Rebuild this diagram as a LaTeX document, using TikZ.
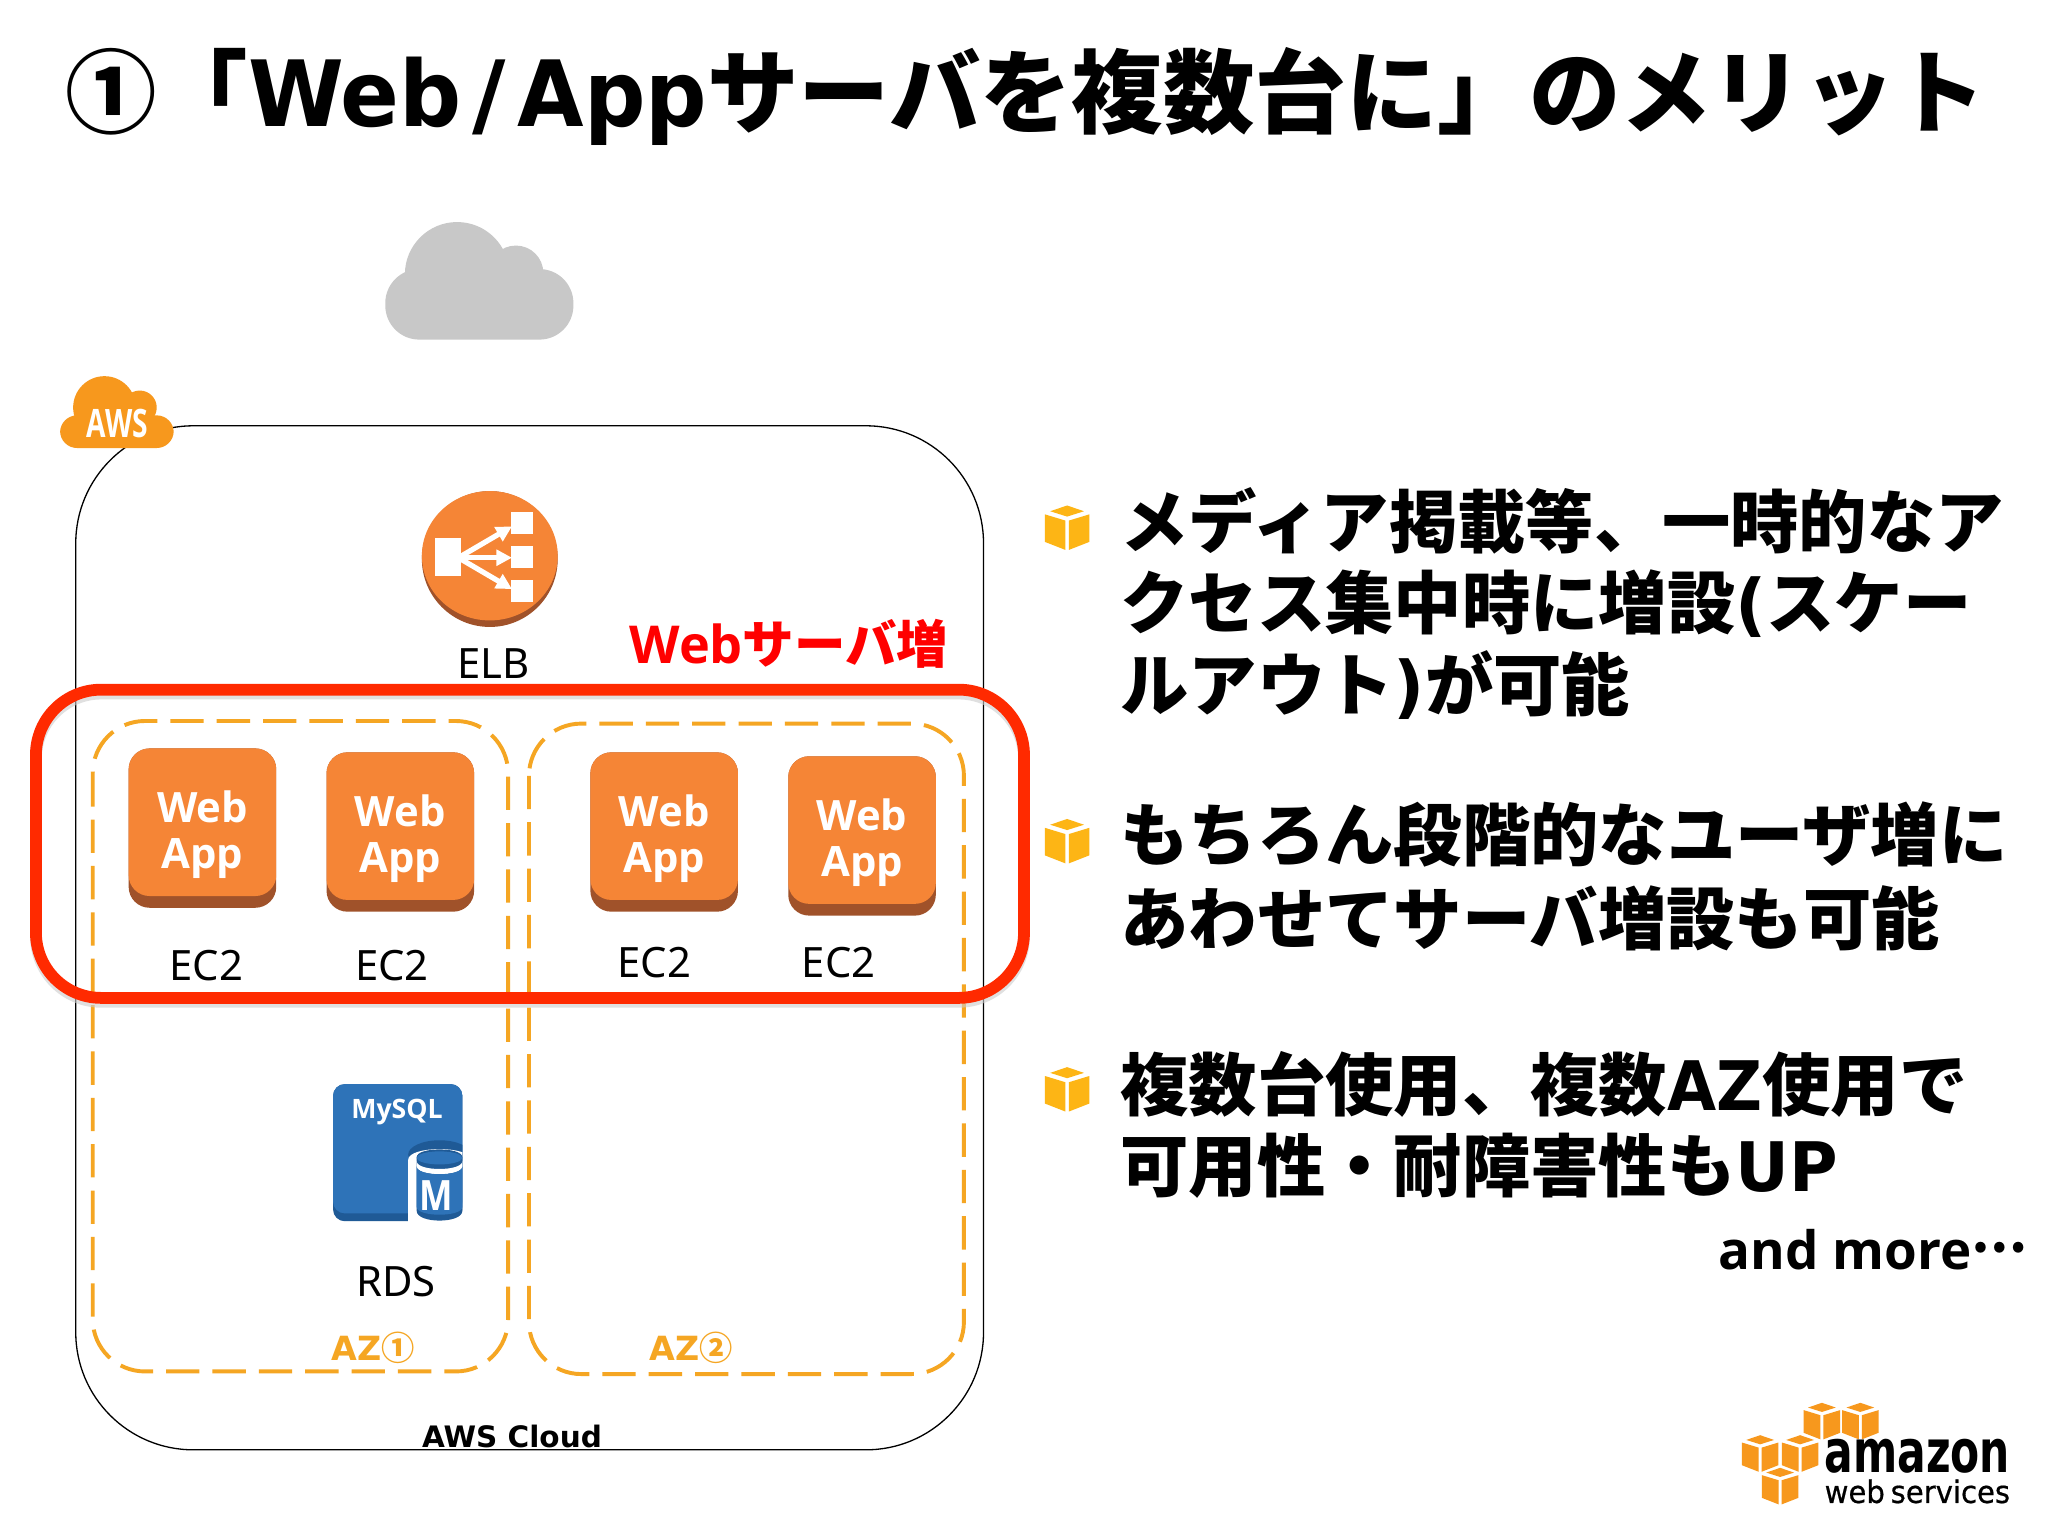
\documentclass[tikz,border=0pt]{standalone}
\usepackage{fontspec}
\setmainfont{Noto Sans}
\newfontfamily\ja{Noto Sans CJK JP}
\newfontfamily\lat{DejaVu Sans}
\newfontfamily\latheavy[FakeBold=0.6]{DejaVu Sans}
\newfontfamily\os{Open Sans}
\usetikzlibrary{arrows.meta}
\definecolor{awsorange}{HTML}{F58536}
\definecolor{awsdark}{HTML}{A0522A}
\definecolor{azorange}{HTML}{F5A623}
\definecolor{redbox}{HTML}{FF2A00}
\definecolor{rdsblue}{HTML}{2E73B8}
\definecolor{rdsdark}{HTML}{1F5A96}
\definecolor{cubey}{HTML}{FDB515}
\definecolor{logoor}{HTML}{F7981D}
\definecolor{cloudgray}{HTML}{C8C8C8}
\tikzset{
  txt/.style={inner sep=0pt,outer sep=0pt},
  lbl/.style={txt,font=\fontsize{32}{32}\selectfont},
  tiletxt/.style={txt,anchor=base,text=white,font=\os\bfseries\fontsize{32}{32}\selectfont},
  azbox/.style={draw=azorange,line width=3pt,rounded corners=40pt,dash pattern=on 25.5pt off 10pt},
  body/.style={txt,anchor=base west,font=\ja\bfseries\fontsize{52.3}{52.3}\selectfont},
  azlab/.style={txt,text=azorange,font=\lat\bfseries\fontsize{25.5}{26}\selectfont},
  elbarrow/.style={white,line width=4pt,-{Triangle[length=12pt,width=12pt]}},
}
\newcommand{\cubeicon}[5][1]{%
  \begin{scope}[shift={(#2,#3)},x=#4pt,y=-#4pt,fill=#5]
    \fill (.5,0)--(.88,.13)--(.5,.25)--(.12,.13)--cycle;
    \fill (0,.2)--(.46,.34)--(.46,1)--(0,.82)--cycle;
    \fill (.54,.34)--(1,.2)--(1,.82)--(.54,1)--cycle;
  \end{scope}}
\newcommand{\webtile}[3]{%
  \fill[awsdark,rounded corners=16pt] (#2,#3) rectangle ++(113,122);
  \fill[awsorange,rounded corners=16pt] (#2,#3) rectangle ++(113,113);
  \node[tiletxt] (#1w) at (#2+56.5,#3+57) {Web};
  \node[tiletxt] (#1a) at (#2+56.5,#3+92) {App};}
\begin{document}
\begin{tikzpicture}[x=1pt,y=-1pt]
\useasboundingbox (0,0) rectangle (1568,1176);
\fill[white] (0,0) rectangle (1568,1176);

% title
\node[txt,anchor=base west,font=\bfseries\fontsize{70}{70}\selectfont] (title) at (50,97)
  {\ja ①「\lat\scalebox{.95}[1]{Web}\hspace{8pt}/\hspace{9pt}\scalebox{.94}[1]{App}\ja サーバを複数台に」のメリット};

% internet cloud
\fill[cloudgray] (350,210) circle [radius=40];
\fill[cloudgray] (395,209) circle [radius=21];
\fill[cloudgray,rounded corners=26pt] (295,206) rectangle (439,260);

% AWS Cloud box
\draw[black,line width=1pt,rounded corners=90pt] (58,326) rectangle (753,1110);
\node[txt,font=\lat\bfseries\fontsize{22.6}{24}\selectfont] (cloudlabel) at (392,1100) {AWS Cloud};

% AWS badge
\fill[logoor] (80,312) circle [radius=24];
\fill[logoor] (107,312) circle [radius=13];
\fill[logoor,rounded corners=13pt] (46,318) rectangle (133,343);
\node[txt,text=white,font=\os\bfseries\fontsize{30}{30}\selectfont] (awsbadge) at (90,324) {\scalebox{0.72}[1]{AWS}};

% ELB
\fill[awsdark] (375,428) circle [radius=52];
\fill[awsorange] (375,425.5) ellipse [x radius=52,y radius=49.5];
\fill[white] (333,412) rectangle (353,441);
\fill[white] (391,392) rectangle (408,409);
\fill[white] (391,418) rectangle (408,435);
\fill[white] (391,444) rectangle (408,461);
\draw[elbarrow] (351,427) -- (392,403);
\draw[elbarrow] (351,427) -- (392,427);
\draw[elbarrow] (351,427) -- (392,451);
\node[lbl] (elb) at (378,508) {ELB};

% AZ boxes
\draw[azbox] (71,552) rectangle (389,1050);
\draw[azbox] (405,554) rectangle (738,1052);

% Web servers
\webtile{wa}{98.5}{573}
\webtile{wb}{250}{576}
\webtile{wc}{452}{576}
\webtile{wd}{603.5}{579}
\node[lbl] (eca) at (158,739) {EC2};
\node[lbl] (ecb) at (300,739) {EC2};
\node[lbl] (ecc) at (501,737) {EC2};
\node[lbl] (ecd) at (642,737) {EC2};

% RDS
\fill[rdsdark,rounded corners=9pt] (255,830) rectangle (354,935);
\fill[rdsblue,rounded corners=9pt] (255,830) rectangle (354,929);
\node[txt,text=white,font=\os\bfseries\fontsize{24}{24}\selectfont] (mysql) at (304,851) {\resizebox{70pt}{!}{MySQL}};
\begin{scope}
  \clip (255,830) rectangle (354,940);
  \fill[rdsdark] (336.5,884) ellipse [x radius=24,y radius=11];
  \fill[white] (312.5,936) -- (312.5,888) .. controls (312.5,877) and (360.5,877) .. (360.5,888) -- (360.5,936) -- cycle;
  % dark silhouette of the cylinder
  \fill[rdsdark] (319,886) .. controls (319,878) and (354,878) .. (354,886)
     -- (354,927) .. controls (354,937) and (319,937) .. (319,927) -- cycle;
  % white ring under the lid
  \fill[white] (319,889) .. controls (319,897) and (354,897) .. (354,889)
     -- (354,893) .. controls (354,901) and (319,901) .. (319,893) -- cycle;
  % blue wall
  \fill[rdsblue] (319,893) .. controls (319,901) and (354,901) .. (354,893)
     -- (354,924) .. controls (354,932) and (319,932) .. (319,924) -- cycle;
  % lid
  \fill[rdsblue] (336.5,886.5) ellipse [x radius=17.5,y radius=5];
\end{scope}
\node[txt,text=white,font=\os\bfseries\fontsize{32}{32}\selectfont] (mletter) at (334,915) {\scalebox{0.85}[1]{M}};
\node[lbl] (rds) at (303,981) {RDS};

% AZ labels
\node[azlab] (aza) at (286,1032) {AZ{\ja ①}};
\node[azlab] (azb) at (529,1032) {AZ{\ja ②}};

% red highlight
\draw[gray!40,line width=9pt,rounded corners=50pt,opacity=.6] (27.5,531) rectangle (784,767);
\draw[redbox,line width=9pt,rounded corners=50pt] (27.5,528) rectangle (784,764);
\node[txt,anchor=base west,text=red,font=\bfseries\fontsize{40}{40}\selectfont] (redlabel) at (482,508)
  {\os Web\ja\fontsize{39.4}{39.4}\selectfont サーバ増};

% bullets and text
\cubeicon{800}{387}{34}{cubey}
\cubeicon{800}{627}{34}{cubey}
\cubeicon{800}{817}{34}{cubey}
\node[body] (la) at (858,419) {メディア掲載等、一時的なア};
\node[body] (lb) at (858,481) {クセス集中時に増設\lat(\ja スケー};
\node[body] (lc) at (858,544) {ルアウト\lat)\ja が可能};
\node[body] (ld) at (858,659) {もちろん段階的なユーザ増に};
\node[body] (le) at (858,723) {あわせてサーバ増設も可能};
\node[body] (lf) at (858,850) {複数台使用、複数\lat\scalebox{.93}[1]{AZ}\ja 使用で};
\node[body] (lg) at (858,912) {可用性・耐障害性も\lat\scalebox{.97}[1]{UP}};
\node[txt,anchor=base east,font=\bfseries\fontsize{40.5}{41}\selectfont] (more) at (1552,972)
  {\os and more\ja\raisebox{13pt}{\fontsize{38}{38}\selectfont …}};

% amazon web services logo
\cubeicon{1380.9}{1074}{28}{logoor}
\cubeicon{1410.3}{1074}{28}{logoor}
\cubeicon{1333.6}{1098.8}{28}{logoor}
\cubeicon{1364.2}{1098.8}{28}{logoor}
\cubeicon{1348.9}{1123.8}{28}{logoor}
\node[txt,anchor=south west] (amazon) at (1397,1128) {\resizebox{142pt}{25.5pt}{\lat\bfseries amazon}};
\node[txt,anchor=south west] (wsv) at (1397,1151) {\resizebox{142pt}{18pt}{\latheavy web\hspace{.2em}services}};
\end{tikzpicture}
\end{document}
